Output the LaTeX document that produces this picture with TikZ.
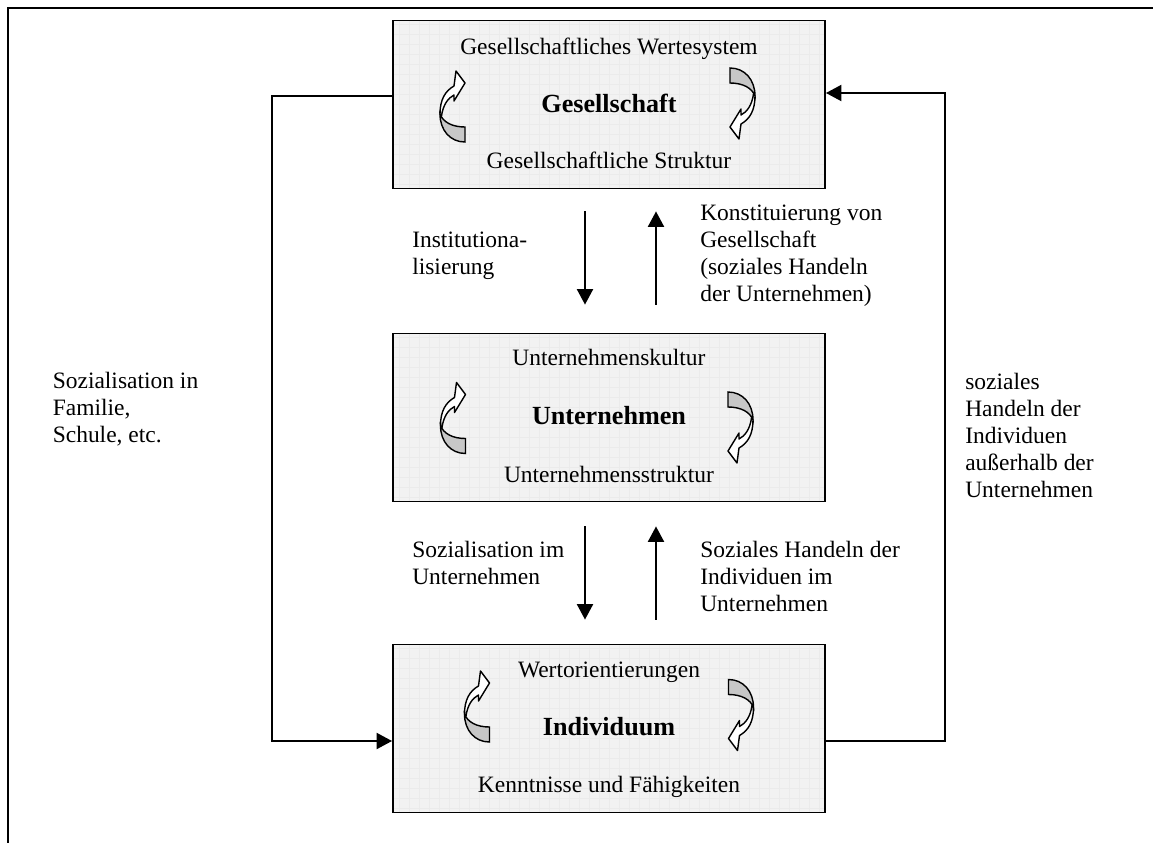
\documentclass[tikz,border=0pt]{standalone}
\usepackage{fontspec}
\setmainfont{Liberation Serif}
\usetikzlibrary{arrows.meta}

\begin{document}
\begin{tikzpicture}[x=0.025cm, y=-0.025cm,
    boxStyle/.style={draw, line width=1.3pt, fill=black!5, minimum width=10.8cm, minimum height=4.2cm, inner sep=0pt,
        path picture={\draw[black!8, line width=0.25pt, step=0.25cm] (path picture bounding box.south west) grid (path picture bounding box.north east);}},
    textStyle/.style={inner sep=0pt, anchor=base, font=\fontsize{16.7}{19.2}\selectfont},
    titleStyle/.style={inner sep=0pt, anchor=base, font=\fontsize{18.6}{22}\selectfont\bfseries},
    labelStyle/.style={inner sep=0pt, anchor=north west, align=left, font=\fontsize{16.7}{19.2}\selectfont},
    arrowStyle/.style={line width=1.1pt, -{Triangle[length=11pt, width=11.5pt]}},
    curvedArrow/.pic={
        \draw[line width=1pt, fill=black!22] (12.5,36) .. controls (-2.5,36) and (-12.5,24) .. (-12.5,8) .. controls (-9.5,16) and (-0.5,21) .. (12.5,21) -- cycle;
        \draw[line width=1pt, fill=white, line join=round] (-12.5,8) .. controls (-12.5,-6) and (-7.5,-15) .. (1.5,-20) -- (3.5,-35) -- (12.5,-23) -- (1.5,-5) -- (1.5,-11) .. controls (-4.5,-8) and (-9.5,-1) .. (-11,10) -- cycle;
    }]
    \useasboundingbox (0,0) rectangle (1153,843);
    \draw[line width=1.5pt] (8,843) -- (8,8) -- (1153,8);

    \node[boxStyle](G) at (609,104.5) {};
    \node[boxStyle](U) at (609,417.5) {};
    \node[boxStyle](I) at (609,728.5) {};

    \node[textStyle](gWerte) at (609,54) {Gesellschaftliches Wertesystem};
    \node[titleStyle](gTitel) at (609,112) {Gesellschaft};
    \node[textStyle](gStruktur) at (609,168) {Gesellschaftliche Struktur};
    \node[textStyle](uKultur) at (609,365) {Unternehmenskultur};
    \node[titleStyle](uTitel) at (609,424) {Unternehmen};
    \node[textStyle](uStruktur) at (609,482) {Unternehmensstruktur};
    \node[textStyle](iWerte) at (609,677) {Wertorientierungen};
    \node[titleStyle](iTitel) at (609,735) {Individuum};
    \node[textStyle](iKenntnis) at (609,792) {Kenntnisse und Fähigkeiten};

    \pic at (452.5,106) {curvedArrow};
    \pic[rotate=180] at (742.5,104) {curvedArrow};
    \pic at (453,417.5) {curvedArrow};
    \pic[rotate=180] at (740.5,428) {curvedArrow};
    \pic at (477,706) {curvedArrow};
    \pic[rotate=180] at (741,715.5) {curvedArrow};

    \node[labelStyle](inst) at (412,232) {Institutiona-\\lisierung};
    \node[labelStyle](konst) at (700,205) {Konstituierung von\\Gesellschaft\\(soziales Handeln\\der Unternehmen)};
    \node[labelStyle](sozU) at (412,541) {Sozialisation im\\Unternehmen};
    \node[labelStyle](handU) at (700,541) {Soziales Handeln der\\Individuen im\\Unternehmen};
    \node[labelStyle](sozF) at (52.5,372) {Sozialisation in\\Familie,\\Schule, etc.};
    \node[labelStyle](handA) at (965,373) {soziales\\Handeln der\\Individuen\\außerhalb der\\Unternehmen};

    \coordinate (downX) at (585,0);
    \coordinate (upX) at (656,0);
    \coordinate (lt) at (272,96);
    \coordinate (lb) at (272,741);
    \coordinate (rb) at (945,741);
    \coordinate (rt) at (945,93);

    \draw[arrowStyle, shorten <=0.55cm, shorten >=0.7cm] (G.south -| downX) -- (U.north -| downX);
    \draw[arrowStyle, shorten <=0.7cm, shorten >=0.55cm] (U.north -| upX) -- (G.south -| upX);
    \draw[arrowStyle, shorten <=0.6cm, shorten >=0.6cm] (U.south -| downX) -- (I.north -| downX);
    \draw[arrowStyle, shorten <=0.6cm, shorten >=0.6cm] (I.north -| upX) -- (U.south -| upX);
    \draw[arrowStyle] (G.west |- lt) -- (lt) -- (lb) -- (I.west |- lb);
    \draw[arrowStyle] (I.east |- rb) -- (rb) -- (rt) -- (G.east |- rt);
\end{tikzpicture}
\end{document}
